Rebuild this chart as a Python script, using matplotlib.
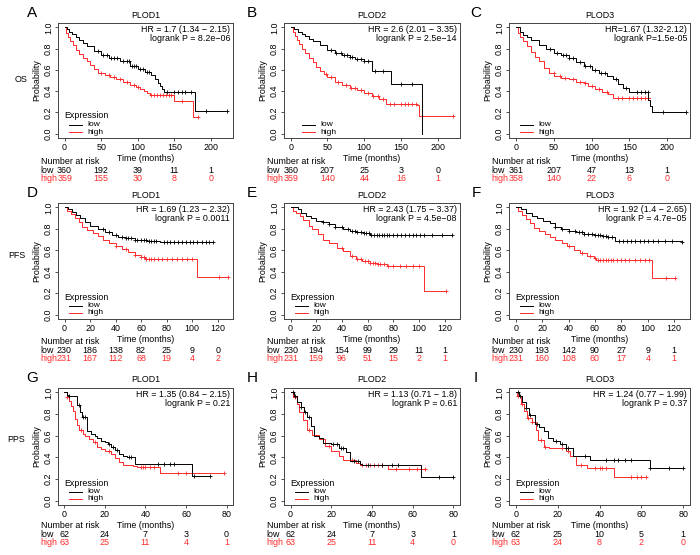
import numpy as np
import matplotlib.pyplot as plt
from matplotlib.lines import Line2D
from matplotlib.transforms import blended_transform_factory

plt.rcParams['font.family'] = ['Liberation Sans', 'DejaVu Sans']

W, H = 700, 555
RED = '#ff2a2a'
FS = 6.4

# ---- OS ----
a_low_t = [0, 3, 6, 10, 15, 20, 25, 30, 40, 50, 60, 75, 90, 100, 110, 118, 123, 127, 130, 133, 136, 178, 222]
a_low_s = [1.0, 0.98, 0.96, 0.94, 0.91, 0.88, 0.85, 0.82, 0.78, 0.74, 0.71, 0.68, 0.64, 0.61, 0.58, 0.55, 0.51, 0.48, 0.45, 0.42, 0.39, 0.21, 0.21]
a_low_c = [45, 52, 58, 63, 68, 72, 80, 85, 88, 92, 95, 98, 103, 107, 112, 115, 140, 150, 155, 160, 165, 172, 193, 222]
a_high_t = [0, 2, 5, 8, 12, 16, 20, 25, 30, 35, 40, 46, 55, 62, 70, 80, 90, 97, 103, 108, 112, 116, 150, 175, 182]
a_high_s = [1.0, 0.95, 0.91, 0.87, 0.83, 0.79, 0.75, 0.71, 0.68, 0.65, 0.61, 0.57, 0.55, 0.53, 0.51, 0.49, 0.46, 0.44, 0.42, 0.40, 0.38, 0.36, 0.31, 0.16, 0.16]
a_high_c = [50, 60, 68, 75, 85, 95, 100, 118, 122, 126, 130, 134, 138, 142, 146, 160, 182]

b_low_t = [0, 5, 10, 15, 20, 25, 30, 40, 50, 60, 70, 80, 88, 100, 110, 136, 178]
b_low_s = [1.0, 0.98, 0.96, 0.94, 0.92, 0.89, 0.87, 0.83, 0.79, 0.76, 0.74, 0.72, 0.70, 0.68, 0.59, 0.47, 0.0]
b_low_c = [55, 62, 68, 72, 76, 80, 84, 90, 95, 100, 105, 115, 125, 150, 165]
b_high_t = [0, 3, 6, 9, 12, 16, 20, 25, 30, 35, 40, 45, 50, 60, 70, 80, 90, 100, 110, 120, 130, 172, 175, 220]
b_high_s = [1.0, 0.96, 0.92, 0.88, 0.84, 0.80, 0.76, 0.71, 0.67, 0.63, 0.59, 0.56, 0.53, 0.49, 0.46, 0.43, 0.41, 0.38, 0.35, 0.33, 0.28, 0.27, 0.17, 0.17]
b_high_c = [48, 55, 65, 75, 82, 88, 95, 105, 112, 118, 125, 135, 140, 150, 155, 160, 165, 170, 220]

c_low_t = [0, 5, 10, 15, 20, 30, 40, 50, 60, 70, 80, 90, 100, 110, 120, 128, 135, 141, 150, 175, 177, 180, 225]
c_low_s = [1.0, 0.96, 0.93, 0.91, 0.88, 0.83, 0.80, 0.76, 0.74, 0.71, 0.67, 0.64, 0.60, 0.57, 0.54, 0.51, 0.47, 0.43, 0.39, 0.32, 0.26, 0.20, 0.20]
c_low_c = [45, 55, 62, 66, 70, 75, 85, 92, 98, 105, 112, 118, 132, 145, 160, 165, 170, 174, 195, 225]
c_high_t = [0, 3, 6, 10, 15, 20, 25, 30, 37, 44, 51, 60, 70, 80, 90, 95, 105, 114, 122, 128, 177]
c_high_s = [1.0, 0.95, 0.91, 0.87, 0.82, 0.77, 0.72, 0.68, 0.62, 0.57, 0.54, 0.52, 0.51, 0.49, 0.48, 0.45, 0.42, 0.39, 0.37, 0.34, 0.34]
c_high_c = [50, 58, 65, 75, 85, 92, 100, 110, 120, 135, 140, 150, 155, 160, 165, 170, 175]

# ---- PFS ----
d_low_t = [0, 3, 6, 9, 12, 16, 20, 26, 32, 37, 42, 47, 55, 65, 75, 116]
d_low_s = [1.0, 0.98, 0.96, 0.93, 0.90, 0.86, 0.83, 0.80, 0.77, 0.74, 0.72, 0.71, 0.70, 0.69, 0.68, 0.68]
d_low_c = [30, 35, 40, 45, 48, 50, 52, 55, 57, 60, 62, 64, 66, 68, 70, 72, 78, 80, 83, 86, 89, 92, 95, 98, 101, 104, 108, 111, 113, 116]
d_high_t = [0, 2, 5, 8, 11, 14, 18, 22, 26, 30, 35, 40, 45, 50, 55, 60, 63, 104, 128]
d_high_s = [1.0, 0.97, 0.94, 0.90, 0.86, 0.82, 0.79, 0.76, 0.73, 0.70, 0.67, 0.64, 0.61, 0.58, 0.56, 0.54, 0.52, 0.35, 0.35]
d_high_c = [40, 48, 55, 60, 62, 64, 66, 68, 70, 73, 76, 80, 84, 88, 92, 96, 100, 121, 128]

e_low_t = [0, 6, 8, 12, 16, 20, 25, 30, 35, 41, 46, 51, 57, 62, 126]
e_low_s = [1.0, 0.98, 0.95, 0.92, 0.90, 0.875, 0.86, 0.84, 0.82, 0.80, 0.78, 0.77, 0.76, 0.745, 0.745]
e_low_c = [25, 30, 35, 40, 45, 48, 50, 52, 55, 57, 59, 61, 63, 65, 67, 69, 71, 73, 75, 77, 80, 83, 86, 89, 92, 95, 98, 101, 104, 110, 118, 126]
e_high_t = [0, 2, 4, 7, 10, 14, 17, 21, 25, 30, 36, 41, 46, 51, 56, 62, 67, 75, 104, 121]
e_high_s = [1.0, 0.97, 0.95, 0.92, 0.88, 0.83, 0.80, 0.75, 0.70, 0.67, 0.625, 0.59, 0.55, 0.52, 0.50, 0.48, 0.47, 0.45, 0.22, 0.22]
e_high_c = [40, 48, 52, 55, 58, 60, 62, 64, 66, 68, 70, 73, 76, 80, 85, 90, 95, 100, 121]

f_low_t = [0, 4, 8, 12, 16, 21, 26, 30, 34, 40, 46, 52, 59, 65, 70, 75, 126]
f_low_s = [1.0, 0.98, 0.95, 0.92, 0.90, 0.875, 0.85, 0.82, 0.80, 0.78, 0.77, 0.755, 0.74, 0.73, 0.72, 0.69, 0.68]
f_low_c = [30, 35, 40, 45, 48, 50, 52, 55, 58, 60, 62, 64, 66, 68, 70, 73, 78, 81, 84, 87, 90, 94, 97, 100, 104, 108, 113, 118, 126]
f_high_t = [0, 2, 5, 8, 11, 14, 18, 22, 26, 30, 35, 39, 44, 49, 54, 59, 61, 103, 121]
f_high_s = [1.0, 0.97, 0.93, 0.89, 0.85, 0.81, 0.78, 0.75, 0.72, 0.70, 0.67, 0.64, 0.60, 0.57, 0.55, 0.53, 0.51, 0.34, 0.34]
f_high_c = [40, 50, 56, 60, 62, 64, 66, 68, 70, 72, 74, 77, 80, 83, 86, 90, 94, 98, 101, 114, 121]

# ---- PPS ----
g_low_t = [0, 1, 2, 6, 7.5, 8.5, 11, 13, 15, 16, 18, 20, 21.5, 23, 25, 27, 29, 31, 34.6, 63, 72]
g_low_s = [1.0, 0.98, 0.97, 0.88, 0.82, 0.77, 0.64, 0.62, 0.60, 0.58, 0.55, 0.54, 0.52, 0.50, 0.47, 0.43, 0.41, 0.40, 0.34, 0.23, 0.23]
g_low_c = [2, 7, 9, 10, 22, 24, 26, 32, 33, 46, 49, 52, 54, 64, 72]
g_high_t = [0, 1, 2, 3, 4, 5, 6, 7, 9, 10, 12, 14, 16, 18, 20, 23, 25, 27, 29, 34, 36, 47, 79]
g_high_s = [1.0, 0.96, 0.92, 0.87, 0.83, 0.75, 0.70, 0.65, 0.62, 0.60, 0.57, 0.54, 0.50, 0.48, 0.46, 0.43, 0.39, 0.36, 0.33, 0.32, 0.31, 0.26, 0.26]
g_high_c = [1, 8, 15, 22, 38, 39, 40, 42, 44, 56, 60, 79]

h_low_t = [0, 1.6, 3.3, 5, 6.5, 8, 10, 11.4, 14, 16, 20, 23.7, 27, 29.4, 34, 35, 64, 80]
h_low_s = [1.0, 0.97, 0.91, 0.865, 0.82, 0.775, 0.685, 0.595, 0.58, 0.535, 0.52, 0.49, 0.445, 0.37, 0.34, 0.325, 0.22, 0.22]
h_low_c = [1, 2, 5, 7, 9, 21, 23, 25, 26, 31, 33, 38, 45, 50, 53, 73, 80]
h_high_t = [0, 1, 3.3, 4.4, 6, 8, 10.6, 14, 17, 20, 23.7, 26, 32, 34, 48, 66]
h_high_s = [1.0, 0.955, 0.895, 0.82, 0.745, 0.655, 0.61, 0.565, 0.505, 0.46, 0.415, 0.38, 0.35, 0.33, 0.29, 0.29]
h_high_c = [2, 9, 19, 30, 35, 37, 39, 41, 43, 45, 52, 58, 62, 66]

i_low_t = [0, 1.6, 3.2, 4.8, 6.5, 9, 11.3, 13.7, 15.3, 17.8, 21, 24, 27.5, 35.5, 64, 80]
i_low_s = [1.0, 0.97, 0.91, 0.86, 0.79, 0.71, 0.68, 0.64, 0.58, 0.55, 0.52, 0.485, 0.41, 0.38, 0.30, 0.30]
i_low_c = [1, 2, 5, 7, 10, 19, 22, 24, 25, 33, 43, 47, 49, 52, 55, 64, 73, 80]
i_high_t = [0, 0.8, 2.4, 4, 5.6, 8, 9.7, 10.5, 13.7, 16, 21, 24, 26, 29, 34, 47, 62]
i_high_s = [1.0, 0.97, 0.89, 0.83, 0.76, 0.73, 0.65, 0.56, 0.50, 0.49, 0.485, 0.455, 0.41, 0.33, 0.30, 0.22, 0.22]
i_high_c = [1, 3, 6, 8, 12, 14, 22, 25, 31, 38, 40, 41, 43, 55, 58, 60, 62]

# titles, stats, number at risk
letters = ['A', 'B', 'C', 'D', 'E', 'F', 'G', 'H', 'I']
genes = ['PLOD1', 'PLOD2', 'PLOD3'] * 3
hr_text = ['HR = 1.7 (1.34 \u2212 2.15)', 'HR = 2.6 (2.01 \u2212 3.35)', 'HR=1.67 (1.32-2.12)',
           'HR = 1.69 (1.23 \u2212 2.32)', 'HR = 2.43 (1.75 \u2212 3.37)', 'HR = 1.92 (1.4 \u2212 2.65)',
           'HR = 1.35 (0.84 \u2212 2.15)', 'HR = 1.13 (0.71 \u2212 1.8)', 'HR = 1.24 (0.77 \u2212 1.99)']
p_text = ['logrank P = 8.2e\u221206', 'logrank P = 2.5e\u221214', 'logrank P=1.5e-05',
          'logrank P = 0.0011', 'logrank P = 4.5e\u221208', 'logrank P = 4.7e\u221205',
          'logrank P = 0.21', 'logrank P = 0.61', 'logrank P = 0.37']
row_names = ['OS', 'PFS', 'PPS']
os_ticks = [0, 50, 100, 150, 200]
pfs_ticks = [0, 20, 40, 60, 80, 100, 120]
pps_ticks = [0, 20, 40, 60, 80]
risk_low = [[360, 192, 39, 11, 1], [360, 207, 25, 3, 0], [361, 207, 47, 13, 1],
            [230, 186, 138, 82, 25, 9, 0], [230, 194, 154, 99, 29, 11, 1], [230, 193, 142, 90, 27, 9, 1],
            [62, 24, 7, 3, 0], [62, 24, 7, 3, 1], [62, 25, 10, 5, 1]]
risk_high = [[359, 155, 30, 8, 0], [359, 140, 44, 16, 1], [358, 140, 22, 6, 0],
             [231, 167, 112, 68, 19, 4, 2], [231, 159, 96, 51, 15, 2, 1], [231, 160, 108, 60, 17, 4, 1],
             [63, 25, 11, 4, 1], [63, 25, 11, 4, 0], [63, 24, 8, 2, 0]]

curves = [
    (a_low_t, a_low_s, a_low_c, a_high_t, a_high_s, a_high_c),
    (b_low_t, b_low_s, b_low_c, b_high_t, b_high_s, b_high_c),
    (c_low_t, c_low_s, c_low_c, c_high_t, c_high_s, c_high_c),
    (d_low_t, d_low_s, d_low_c, d_high_t, d_high_s, d_high_c),
    (e_low_t, e_low_s, e_low_c, e_high_t, e_high_s, e_high_c),
    (f_low_t, f_low_s, f_low_c, f_high_t, f_high_s, f_high_c),
    (g_low_t, g_low_s, g_low_c, g_high_t, g_high_s, g_high_c),
    (h_low_t, h_low_s, h_low_c, h_high_t, h_high_s, h_high_c),
    (i_low_t, i_low_s, i_low_c, i_high_t, i_high_s, i_high_c),
]

# layout in reference pixels
col_left = [58, 284, 509]
col_w = [175, 176, 181]
row_top = [23, 203, 388]
row_h = [115, 116, 117]
xlims = [(-9, 230), (-5.1, 132), (-3.2, 83.2)]
ticks_by_row = [os_ticks, pfs_ticks, pps_ticks]
risk_dy = [(24, 32.5, 40.5), (23, 31.5, 39.5), (21, 29.5, 37.5)]
letter_x = [32, 252, 476]
letter_y = [13, 193, 378]
row_label_pos = [(21, 80), (17, 256), (16, 440)]
legend_title = [True, False, False, True, True, True, True, True, True]


def fx(x):
    return x / W


def fy(y):
    return 1 - y / H


def surv_at(t, s, c):
    idx = np.searchsorted(np.asarray(t), np.asarray(c), side='right') - 1
    return np.asarray(s)[idx]


fig = plt.figure(figsize=(7, 5.55), dpi=100)

for k in range(9):
    r, cidx = divmod(k, 3)
    x0, y0, w, h = col_left[cidx], row_top[r], col_w[cidx], row_h[r]
    ax = fig.add_axes([fx(x0), fy(y0 + h), w / W, h / H])
    lt, ls, lc, ht, hs, hc = curves[k]
    ax.step(ht, hs, where='post', color=RED, lw=0.7)
    ax.plot(hc, surv_at(ht, hs, hc), ls='none', marker='+', ms=3.2, mew=0.6, color=RED)
    ax.step(lt, ls, where='post', color='black', lw=0.7)
    ax.plot(lc, surv_at(lt, ls, lc), ls='none', marker='+', ms=3.2, mew=0.6, color='black')

    ax.set_xlim(xlims[r])
    ax.set_ylim(-0.04, 1.04)
    ax.set_xticks(ticks_by_row[r])
    ax.set_yticks([0, 0.2, 0.4, 0.6, 0.8, 1.0])
    ax.set_yticklabels(['0.0', '0.2', '0.4', '0.6', '0.8', '1.0'], rotation=90, va='center')
    ax.tick_params(length=2.5, width=0.6, pad=1.2, labelsize=FS, color='#333333')
    for sp in ax.spines.values():
        sp.set_linewidth(0.7)
        sp.set_color('#444444')
    ax.set_xlabel('Time (months)', fontsize=FS, labelpad=1)
    ax.set_ylabel('Probability', fontsize=FS, labelpad=2)

    # stats text
    fig.text(fx(x0 + w - 3), fy(y0 + 6.5), hr_text[k], ha='right', va='center', fontsize=FS)
    fig.text(fx(x0 + w - 3), fy(y0 + 15.5), p_text[k], ha='right', va='center', fontsize=FS)

    # title and panel letter
    fig.text(fx(x0 + w / 2), fy(letter_y[r] + 2), genes[k], ha='center', va='center', fontsize=FS)
    fig.text(fx(letter_x[cidx]), fy(letter_y[r]), letters[k], ha='center', va='center', fontsize=11)

    # legend
    bot = y0 + h
    dx = 7 if k == 1 else 0
    if legend_title[k]:
        fig.text(fx(x0 + 6), fy(bot - 22), 'Expression', ha='left', va='center', fontsize=FS)
    for yy, col, lab in [(bot - 13.5, 'black', 'low'), (bot - 6, RED, 'high')]:
        fig.add_artist(Line2D([fx(x0 + 11 + dx), fx(x0 + 24 + dx)], [fy(yy), fy(yy)],
                              transform=fig.transFigure, color=col, lw=0.7))
        fig.text(fx(x0 + 29 + dx), fy(yy), lab, ha='left', va='center', fontsize=6)

    # number at risk table
    tr = blended_transform_factory(ax.transData, fig.transFigure)
    d1, d2, d3 = risk_dy[r]
    fig.text(fx(x0 - 17), fy(bot + d1), 'Number at risk', ha='left', va='center', fontsize=FS)
    fig.text(fx(x0 - 18), fy(bot + d2), 'low', ha='left', va='center', fontsize=FS)
    fig.text(fx(x0 - 18), fy(bot + d3), 'high', ha='left', va='center', fontsize=FS, color=RED)
    for tx, nl, nh in zip(ticks_by_row[r], risk_low[k], risk_high[k]):
        ax.text(tx, fy(bot + d2), str(nl), transform=tr, ha='center', va='center', fontsize=FS, clip_on=False)
        ax.text(tx, fy(bot + d3), str(nh), transform=tr, ha='center', va='center', fontsize=FS,
                color=RED, clip_on=False)

for name, (x, y) in zip(row_names, row_label_pos):
    fig.text(fx(x), fy(y), name, ha='center', va='center', fontsize=FS)

fig.savefig('out.png', dpi=100)
